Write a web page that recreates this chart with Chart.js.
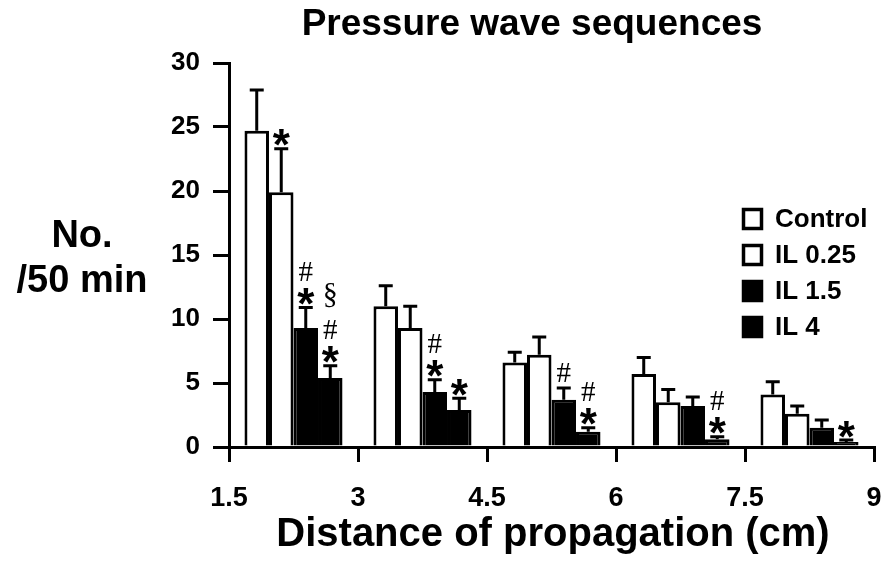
<!DOCTYPE html>
<html>
<head>
<meta charset="utf-8">
<script src="https://cdn.jsdelivr.net/npm/chart.js@4.4.0/dist/chart.umd.min.js"></script>
<style>
  html, body { margin: 0; padding: 0; background: #fff; }
  #chart { display: block; }
</style>
</head>
<body>
<canvas id="chart" width="885" height="565"></canvas>
<script>
// Data
const centers = [2.25, 3.75, 5.25, 6.75, 8.25]; // distance of propagation (cm)
const xTicks = [1.5, 3, 4.5, 6, 7.5, 9];
const yTicks = [0, 5, 10, 15, 20, 25, 30];

const seriesNames = ["Control", "IL 0.25", "IL 1.5", "IL 4"];
const control    = [24.7, 11.0, 6.6, 5.7, 4.1];
const controlErr = [3.2, 1.6, 0.8, 1.3, 1.0];
const il025      = [19.9, 9.3, 7.2, 3.5, 2.6];
const il025Err   = [3.4, 1.7, 1.4, 1.0, 0.6];
const il15       = [9.3, 4.3, 3.7, 3.2, 1.5];
const il15Err    = [1.6, 0.95, 0.9, 0.7, 0.6];
const il4        = [5.4, 2.9, 1.2, 0.6, 0.4];
const il4Err     = [0.95, 0.9, 0.3, 0.2, 0.15];

// significance marks above each bar (top to bottom)
const controlMarks = ["", "", "", "", ""];
const il025Marks   = ["*", "", "", "", ""];
const il15Marks    = ["#*", "#*", "#", "", ""];
const il4Marks     = ["§#*", "*", "#*", "#*", "*"];

const values = [control, il025, il15, il4];
const errors = [controlErr, il025Err, il15Err, il4Err];
const marks = [controlMarks, il025Marks, il15Marks, il4Marks];
const fills = ["#ffffff", "#ffffff", "#000000", "#000000"];

const SANS = "'Liberation Sans', Arial, sans-serif";
const SERIF = "'Liberation Serif', 'Times New Roman', serif";

const datasets = seriesNames.map((name, i) => ({
  label: name,
  data: centers.map((c, j) => ({ x: c, y: values[i][j] })),
  backgroundColor: fills[i],
  borderColor: "#000",
  borderWidth: 3,
  borderSkipped: "bottom",
  categoryPercentage: 0.76,
  barPercentage: 1.0,
}));

// error bars (upper only) + significance symbols
const errorBars = {
  id: "errorBars",
  afterDatasetsDraw(chart) {
    const ctx = chart.ctx;
    const yScale = chart.scales.y;
    ctx.save();
    chart.data.datasets.forEach((ds, i) => {
      const meta = chart.getDatasetMeta(i);
      meta.data.forEach((bar, j) => {
        const top = yScale.getPixelForValue(values[i][j] + errors[i][j]);
        ctx.strokeStyle = "#000";
        ctx.lineWidth = 3;
        ctx.beginPath();
        ctx.moveTo(bar.x, bar.y);
        ctx.lineTo(bar.x, top);
        ctx.moveTo(bar.x - 7, top);
        ctx.lineTo(bar.x + 7, top);
        ctx.stroke();

        // stack symbols upward from the error cap
        let cursor = top - 3;
        const chars = marks[i][j].split("").reverse();
        chars.forEach((ch) => {
          ctx.fillStyle = "#000";
          ctx.textAlign = "center";
          ctx.textBaseline = "alphabetic";
          if (ch === "*") {
            const h = 21, size = 44;
            ctx.font = "bold " + size + "px " + SANS;
            ctx.fillText(ch, bar.x, cursor - h / 2 + 0.57 * size);
            cursor -= h;
          } else if (ch === "#") {
            const h = 25, size = 29;
            ctx.font = size + "px " + SERIF;
            ctx.fillText(ch, bar.x, cursor - h / 2 + 0.34 * size);
            cursor -= h;
          } else {
            const h = 44, size = 30;
            ctx.font = size + "px " + SERIF;
            ctx.fillText(ch, bar.x, cursor - h / 2 + 0.265 * size);
            cursor -= h;
          }
        });
      });
    });
    ctx.restore();
  },
};

// title, axis labels and legend box
const decorations = {
  id: "decorations",
  afterDraw(chart) {
    const ctx = chart.ctx;
    ctx.save();
    ctx.fillStyle = "#000";
    ctx.textBaseline = "alphabetic";
    ctx.textAlign = "center";

    ctx.font = "bold 37px " + SANS;
    ctx.fillText("Pressure wave sequences", 532, 35);

    ctx.font = "bold 38px " + SANS;
    ctx.fillText("No.", 82, 247);
    ctx.fillText("/50 min", 82, 292);

    ctx.font = "bold 40px " + SANS;
    ctx.fillText("Distance of propagation (cm)", 553, 546);

    // legend
    ctx.textAlign = "left";
    ctx.textBaseline = "middle";
    ctx.font = "bold 26px " + SANS;
    chart.data.datasets.forEach((ds, i) => {
      const y = 219 + i * 36;
      ctx.fillStyle = ds.backgroundColor;
      ctx.fillRect(742, y - 11, 21, 22);
      ctx.strokeStyle = "#000";
      ctx.lineWidth = 3.5;
      ctx.strokeRect(743.5, y - 9.5, 18, 19);
      ctx.fillStyle = "#000";
      ctx.fillText(ds.label, 775, y + 1);
    });
    ctx.restore();
  },
};

new Chart(document.getElementById("chart"), {
  type: "bar",
  data: { datasets },
  plugins: [errorBars, decorations],
  options: {
    responsive: false,
    animation: false,
    devicePixelRatio: 1,
    layout: { padding: { left: 0, right: 11, top: 63, bottom: 0 } },
    plugins: {
      legend: { display: false },
      title: { display: false },
      tooltip: { enabled: false },
    },
    scales: {
      x: {
        type: "linear",
        min: 1.5,
        max: 9,
        offset: false,
        afterBuildTicks: (s) => { s.ticks = xTicks.map((v) => ({ value: v })); },
        afterFit: (s) => { s.height = 118; s.paddingLeft = 0; s.paddingRight = 0; },
        border: { display: true, color: "#000", width: 3 },
        grid: { offset: false, drawOnChartArea: false, color: "#000", lineWidth: 3, tickLength: 15 },
        ticks: {
          color: "#000",
          padding: 20,
          maxRotation: 0,
          font: { family: SANS, size: 27, weight: "bold" },
          callback: (v) => String(v),
        },
      },
      y: {
        min: 0,
        max: 30,
        afterBuildTicks: (s) => { s.ticks = yTicks.map((v) => ({ value: v })); },
        afterFit: (s) => { s.width = 229; },
        border: { display: true, color: "#000", width: 3 },
        grid: { drawOnChartArea: false, color: "#000", lineWidth: 3, tickLength: 16 },
        ticks: {
          color: "#000",
          padding: 13,
          font: { family: SANS, size: 26, weight: "bold" },
        },
      },
    },
  },
});
</script>
</body>
</html>
